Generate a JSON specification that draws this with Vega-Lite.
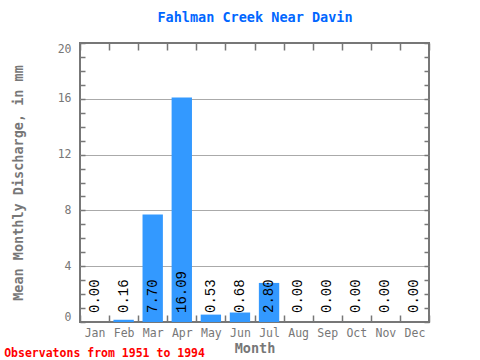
{
  "$schema": "https://vega.github.io/schema/vega-lite/v6.json",
  "width": 349,
  "height": 279,
  "autosize": "none",
  "padding": {"left": 80, "top": 43, "right": 51, "bottom": 38},
  "background": "white",
  "title": {
    "text": "Observatons from 1951 to 1994",
    "orient": "bottom",
    "anchor": "start",
    "frame": "bounds",
    "color": "#ff0000",
    "font": "DejaVu Sans Mono",
    "fontSize": 11.5,
    "fontWeight": "bold",
    "offset": -7,
    "dx": -7
  },
  "config": {
    "view": {"stroke": "#777777", "strokeWidth": 2},
    "axis": {
      "domain": false,
      "labelFont": "DejaVu Sans Mono",
      "titleFont": "DejaVu Sans Mono",
      "labelColor": "#777777",
      "titleColor": "#777777",
      "tickColor": "#777777",
      "tickWidth": 1.5,
      "labelFontSize": 11.5,
      "titleFontSize": 13.5,
      "titleFontWeight": "bold"
    }
  },
  "data": {
    "values": [
      {"month": "Jan", "value": 0.0},
      {"month": "Feb", "value": 0.16},
      {"month": "Mar", "value": 7.7},
      {"month": "Apr", "value": 16.09},
      {"month": "May", "value": 0.53},
      {"month": "Jun", "value": 0.68},
      {"month": "Jul", "value": 2.8},
      {"month": "Aug", "value": 0.0},
      {"month": "Sep", "value": 0.0},
      {"month": "Oct", "value": 0.0},
      {"month": "Nov", "value": 0.0},
      {"month": "Dec", "value": 0.0}
    ]
  },
  "layer": [
    {
      "mark": {"type": "bar", "color": "#3399ff", "width": {"band": 0.7}},
      "encoding": {
        "x": {
          "field": "month",
          "type": "ordinal",
          "sort": null,
          "scale": {"paddingInner": 0, "paddingOuter": 0},
          "axis": {
            "orient": "bottom",
            "labelAngle": 0,
            "tickBand": "extent",
            "tickSize": -7,
            "labelPadding": 12,
            "title": "Month",
            "titlePadding": 3
          }
        },
        "y": {
          "field": "value",
          "type": "quantitative",
          "scale": {"domain": [0, 20], "nice": false},
          "axis": {
            "orient": "left",
            "values": [0,1,2,3,4,5,6,7,8,9,10,11,12,13,14,15,16,17,18,19,20],
            "labelExpr": "datum.value % 4 === 0 ? datum.label : ''",
            "labelFlush": true,
            "tickSize": -5,
            "labelPadding": 14,
            "grid": true,
            "gridColor": "#aaaaaa",
            "gridOpacity": {"condition": {"test": "datum.value % 4 === 0 && datum.value > 0 && datum.value < 20", "value": 1}, "value": 0},
            "title": "Mean Monthly Discharge, in mm",
            "titlePadding": 32
          }
        }
      }
    },
    {
      "mark": {"type": "text", "angle": 270, "align": "left", "baseline": "middle", "dx": 9, "font": "Liberation Mono", "fontSize": 14, "color": "#000000"},
      "encoding": {
        "x": {
          "field": "month",
          "type": "ordinal",
          "sort": null,
          "axis": {
            "orient": "top",
            "labels": false,
            "tickBand": "extent",
            "tickSize": -7,
            "title": "Fahlman Creek Near Davin",
            "titleColor": "#0066ff",
            "titleFontSize": 13.5,
            "titlePadding": 18
          }
        },
        "y": {
          "datum": 0,
          "type": "quantitative",
          "axis": {
            "orient": "right",
            "labels": false,
            "values": [0,1,2,3,4,5,6,7,8,9,10,11,12,13,14,15,16,17,18,19,20],
            "tickSize": -5,
            "grid": false,
            "title": null
          }
        },
        "text": {"field": "value", "type": "quantitative", "format": ".2f"}
      }
    }
  ],
  "resolve": {"axis": {"x": "independent", "y": "independent"}}
}
